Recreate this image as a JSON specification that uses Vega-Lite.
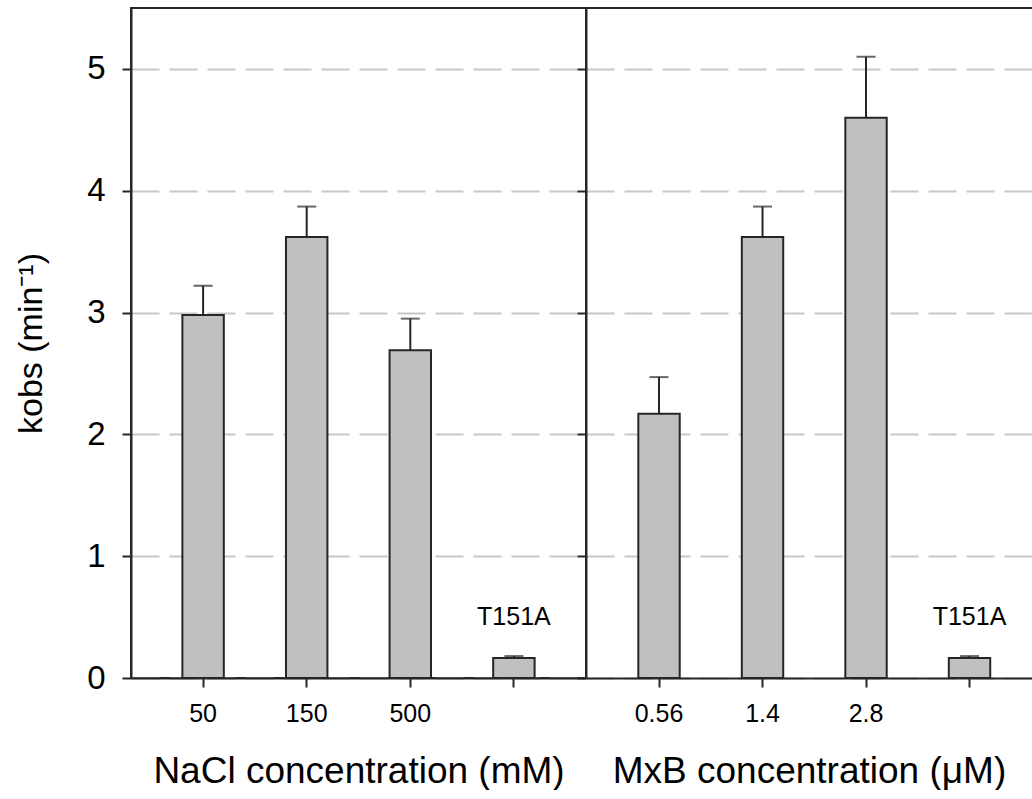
{
  "$schema": "https://vega.github.io/schema/vega-lite/v6.json",
  "padding": {"left": 13, "top": 7, "right": 0, "bottom": 0},
  "autosize": {"type": "pad"},
  "background": "white",
  "datasets": {
    "kobs": [
      {"panel": "NaCl", "conc": "50", "kobs": 2.98, "upper": 3.22},
      {"panel": "NaCl", "conc": "150", "kobs": 3.62, "upper": 3.87},
      {"panel": "NaCl", "conc": "500", "kobs": 2.69, "upper": 2.95},
      {"panel": "NaCl", "conc": "T151A", "kobs": 0.165, "upper": 0.18},
      {"panel": "MxB", "conc": "0.56", "kobs": 2.17, "upper": 2.47},
      {"panel": "MxB", "conc": "1.4", "kobs": 3.62, "upper": 3.87},
      {"panel": "MxB", "conc": "2.8", "kobs": 4.6, "upper": 5.1},
      {"panel": "MxB", "conc": "T151A", "kobs": 0.165, "upper": 0.18}
    ]
  },
  "spacing": 0,
  "bounds": "flush",
  "hconcat": [
    {
      "width": 455,
      "height": 670,
      "view": {"stroke": "#262626", "strokeWidth": 2},
      "data": {"name": "kobs"},
      "transform": [{"filter": "datum.panel == 'NaCl'"}],
      "encoding": {
        "x": {"field": "conc", "type": "nominal", "sort": null,
          "scale": {"type": "band", "paddingInner": 0.6, "paddingOuter": 0.496, "align": 0.5},
          "axis": {"title": "NaCl concentration (mM)", "labelExpr": "datum.label == 'T151A' ? '' : datum.label", "labelAngle": 0, "grid": false}},
        "y": {"field": "kobs", "type": "quantitative",
          "scale": {"domain": [0, 5.5], "nice": false},
          "axis": {"title": "kobs (min⁻¹)", "values": [0, 1, 2, 3, 4, 5], "grid": true}}
      },
      "layer": [
        {"mark": {"type": "bar", "fill": "#c0c0c0", "stroke": "#262626", "strokeWidth": 2}},
        {
          "mark": {"type": "rule", "color": "#262626", "strokeWidth": 2},
          "encoding": {"y2": {"field": "upper"}}
        },
        {
          "mark": {"type": "tick", "orient": "horizontal", "size": 19, "thickness": 2, "color": "#262626"},
          "encoding": {"y": {"field": "upper", "type": "quantitative"}}
        },
        {
          "transform": [{"filter": "datum.conc == 'T151A'"}],
          "mark": {"type": "text", "fontSize": 25, "baseline": "alphabetic", "align": "center", "color": "black", "dy": -33},
          "encoding": {"text": {"field": "conc"}}
        }
      ]
    },
    {
      "width": 446,
      "height": 670,
      "view": {"stroke": "#262626", "strokeWidth": 2, "strokeDash": [446, 1786]},
      "data": {"name": "kobs"},
      "transform": [{"filter": "datum.panel == 'MxB'"}],
      "encoding": {
        "x": {"field": "conc", "type": "nominal", "sort": null,
          "scale": {"type": "band", "paddingInner": 0.6, "paddingOuter": 0.4546, "align": 0.556},
          "axis": {"title": "MxB concentration (μM)", "labelExpr": "datum.label == 'T151A' ? '' : datum.label", "labelAngle": 0, "grid": false}},
        "y": {"field": "kobs", "type": "quantitative",
          "scale": {"domain": [0, 5.5], "nice": false},
          "axis": {"title": null, "values": [0, 1, 2, 3, 4, 5], "grid": true, "labels": false}}
      },
      "layer": [
        {"mark": {"type": "bar", "fill": "#c0c0c0", "stroke": "#262626", "strokeWidth": 2}},
        {
          "mark": {"type": "rule", "color": "#262626", "strokeWidth": 2},
          "encoding": {"y2": {"field": "upper"}}
        },
        {
          "mark": {"type": "tick", "orient": "horizontal", "size": 19, "thickness": 2, "color": "#262626"},
          "encoding": {"y": {"field": "upper", "type": "quantitative"}}
        },
        {
          "transform": [{"filter": "datum.conc == 'T151A'"}],
          "mark": {"type": "text", "fontSize": 25, "baseline": "alphabetic", "align": "center", "color": "black", "dy": -33},
          "encoding": {"text": {"field": "conc"}}
        }
      ]
    }
  ],
  "config": {
    "view": {"stroke": null},
    "font": "Liberation Sans",
    "axis": {
      "domainColor": "#262626",
      "domainWidth": 2,
      "tickColor": "#262626",
      "tickWidth": 2,
      "tickSize": 9,
      "labelColor": "black",
      "titleColor": "black",
      "titleFontWeight": "normal",
      "gridColor": "#c8c8c8",
      "gridDash": [28, 10],
      "gridWidth": 2
    },
    "axisX": {
      "labelFontSize": 25,
      "labelPadding": 14,
      "titleFontSize": 37,
      "titlePadding": 27
    },
    "axisY": {
      "labelFontSize": 33,
      "labelPadding": 17,
      "titleFontSize": 34,
      "titlePadding": 38
    }
  }
}
